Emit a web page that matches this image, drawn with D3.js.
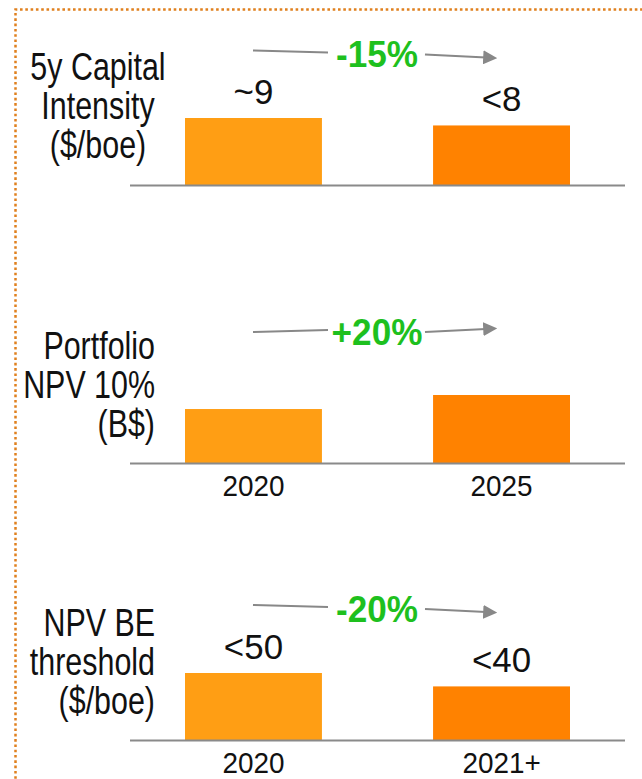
<!DOCTYPE html>
<html><head><meta charset="utf-8">
<script src="https://cdn.jsdelivr.net/npm/d3@7"></script>
<style>
html,body{margin:0;padding:0;background:#fff;}
svg{display:block;}
</style></head>
<body>
<svg id="chart" width="642" height="779"></svg>
<script>
// ---- data ----
const panelTitles = [["5y Capital","Intensity","($/boe)"],["Portfolio","NPV 10%","(B$)"],["NPV BE","threshold","($/boe)"]];
const categories1 = ["2020","2025"];
const categories2 = ["2020","2025"];
const categories3 = ["2020","2021+"];
const values1 = [9, 8];
const values2 = [100, 126];
const values3 = [50, 40];
const valueLabels1 = ["~9","<8"];
const valueLabels2 = ["",""];
const valueLabels3 = ["<50","<40"];
const changeLabels = ["-15%","+20%","-20%"];
const showAxisLabels = [false, true, true];

const panels = [
  {cats:categories1, vals:values1, labels:valueLabels1, yMax:9, hMax:67, base:185, dir:1, cy:53.5, titleX:98, anchor:"middle", titleY:80},
  {cats:categories2, vals:values2, labels:valueLabels2, yMax:126, hMax:68, base:463, dir:-1, cy:331, titleX:155, anchor:"end", titleY:359},
  {cats:categories3, vals:values3, labels:valueLabels3, yMax:50, hMax:67, base:740, dir:1, cy:608, titleX:155, anchor:"end", titleY:636}
];
const colors = ["#FF9E14","#FF8200"];
const sans = "'Liberation Sans',Arial,sans-serif";

const svg = d3.select("#chart");

// dotted border
svg.append("path")
  .attr("d","M15.5,800 L15.5,9.5 L660,9.5")
  .attr("fill","none").attr("stroke","#E0801E").attr("stroke-width",2.5)
  .attr("stroke-dasharray","2.6,2.7");

svg.append("defs").append("marker")
  .attr("id","arr").attr("viewBox","0 0 10 10").attr("refX",2).attr("refY",5)
  .attr("markerWidth",7).attr("markerHeight",7).attr("orient","auto")
  .append("path").attr("d","M0,0 L10,5 L0,10 Z").attr("fill","#888");

function label(g, x, y, txt, size, sx, anchor, weight, fill) {
  return g.append("text")
    .attr("transform", `translate(${x},${y}) scale(${sx},1)`)
    .attr("text-anchor", anchor).attr("font-family", sans)
    .attr("font-size", size).attr("font-weight", weight || "normal")
    .attr("fill", fill || "#111").text(txt);
}

panels.forEach((p,i)=>{
  const g = svg.append("g");
  const x = d3.scaleBand().domain(p.cats).range([185,570]).paddingInner(0.448).paddingOuter(0);
  const y = d3.scaleLinear().domain([0,p.yMax]).range([p.base, p.base - p.hMax]);

  // bars
  g.selectAll("rect").data(p.cats).enter().append("rect")
    .attr("x",d=>x(d)).attr("width",x.bandwidth())
    .attr("y",(d,j)=>y(p.vals[j])).attr("height",(d,j)=>p.base - y(p.vals[j]))
    .attr("fill",(d,j)=>colors[j]);

  // baseline
  g.append("line").attr("x1",130).attr("x2",625).attr("y1",p.base+0.5).attr("y2",p.base+0.5)
    .attr("stroke","#8a8a8a").attr("stroke-width",2);

  // value labels
  p.cats.forEach((c,j)=>{
    if (p.labels[j]) label(g, x(c)+x.bandwidth()/2, y(p.vals[j]) - 14, p.labels[j], 36, 0.97, "middle");
  });

  // axis labels
  if (showAxisLabels[i]) {
    const ax = d3.axisBottom(x).tickSize(0).tickPadding(0);
    const axg = g.append("g").attr("transform",`translate(0,${p.base+33})`).call(ax);
    axg.select(".domain").remove();
    axg.selectAll("text").attr("font-family",sans).attr("font-size",30).attr("fill","#111")
      .attr("dy",0).attr("y",0).attr("transform","scale(0.93,1)");
  }

  // left titles
  panelTitles[i].forEach((t,k)=>{
    label(g, p.titleX, p.titleY + k*39, t, 39, 0.78, p.anchor);
  });

  // change arrow
  const d = p.dir, cy = p.cy;
  g.append("line").attr("x1",253).attr("y1",cy-2*d-1).attr("x2",328).attr("y2",cy-1)
    .attr("stroke","#888").attr("stroke-width",2);
  g.append("line").attr("x1",425).attr("y1",cy+1).attr("x2",486).attr("y2",cy+1+3*d)
    .attr("stroke","#888").attr("stroke-width",2).attr("marker-end","url(#arr)");
  label(g, 377, cy+13.5, changeLabels[i], 37, 0.95, "middle", "bold", "#1EC01E");
});
</script>
</body></html>
